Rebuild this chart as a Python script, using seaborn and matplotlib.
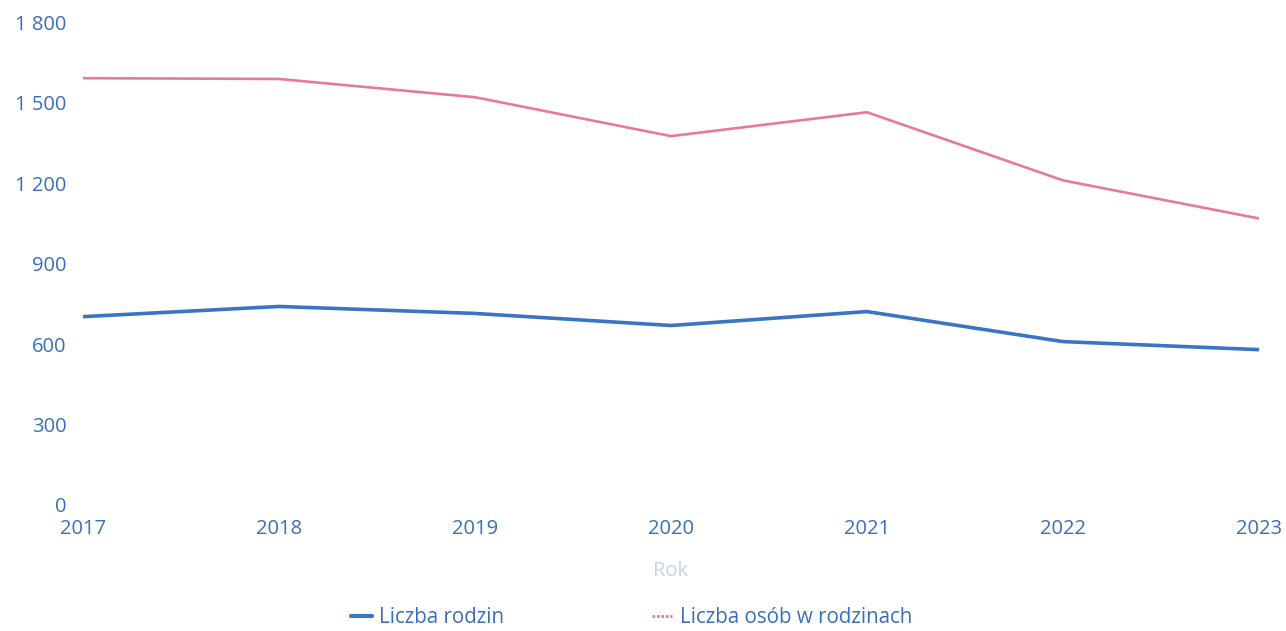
import numpy as np
import pandas as pd
import matplotlib
matplotlib.use("Agg")
import matplotlib.pyplot as plt
import seaborn as sns
from matplotlib.ticker import FuncFormatter

years = [2017, 2018, 2019, 2020, 2021, 2022, 2023]
rodziny = [702, 740, 714, 669, 721, 609, 579]
osoby = [1591, 1588, 1520, 1375, 1464, 1210, 1068]
series_names = ["Liczba rodzin", "Liczba osób w rodzinach"]
colors = ["#3a74c4", "#e8789c"]

df = pd.DataFrame({
    "Rok": years * 2,
    "value": rodziny + osoby,
    "seria": [series_names[0]] * len(years) + [series_names[1]] * len(years),
})

sns.set_theme(style="white")
plt.rcParams["font.family"] = ["Open Sans", "DejaVu Sans"]
tick_col = "#3a6fb5"

fig = plt.figure(figsize=(12.86, 6.31), dpi=100)
ax = fig.add_axes([0.0645, 0.1997, 0.9145, 0.7653])

sns.lineplot(data=df, x="Rok", y="value", hue="seria", palette=colors,
             ax=ax, legend=False)
ax.lines[0].set_linewidth(2.6)
ax.lines[1].set_linewidth(1.9)

ax.set_xlim(2017, 2023)
ax.set_ylim(0, 1800)
ax.set_xticks(years)
ax.set_yticks(range(0, 1801, 300))
ax.yaxis.set_major_formatter(FuncFormatter(lambda v, p: f"{int(v):,}".replace(",", " ")))
ax.tick_params(axis="both", length=0, labelsize=14.5, colors=tick_col)
ax.tick_params(axis="x", pad=10)
ax.tick_params(axis="y", pad=12)
for s in ax.spines.values():
    s.set_visible(False)
ax.set_ylabel("")
ax.set_xlabel("Rok", fontsize=14.5, color="#c4d3ea", labelpad=16)

handles = [plt.Line2D([], [], color=colors[0], lw=3),
           plt.Line2D([], [], color=colors[1], lw=2, ls=(0, (1, 0.6)))]
fig.legend(handles, series_names, loc="center", ncol=2,
           bbox_to_anchor=(0.491, 0.021), frameon=False, fontsize=14.8,
           labelcolor=tick_col, handlelength=1.0, handletextpad=0.35,
           columnspacing=7.2)

fig.savefig("out.png", dpi=100)
